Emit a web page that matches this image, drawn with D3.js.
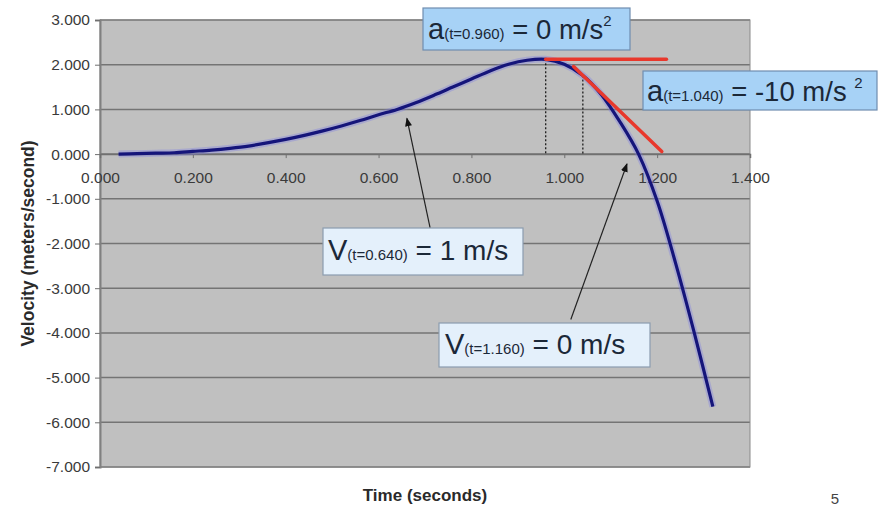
<!DOCTYPE html>
<html>
<head>
<meta charset="utf-8">
<script src="https://cdn.jsdelivr.net/npm/d3@7"></script>
<style>
  html, body { margin: 0; padding: 0; background: #fff; }
  svg { display: block; font-family: "Liberation Sans", Arial, sans-serif; }
</style>
</head>
<body>
<svg id="chart" width="879" height="508"></svg>
<script>
// Sample times (s) and measured velocity (m/s)
const times = [0.04, 0.08, 0.12, 0.16, 0.20, 0.24, 0.28, 0.32, 0.36, 0.40,
               0.44, 0.48, 0.52, 0.56, 0.60, 0.64, 0.68, 0.72, 0.76, 0.80,
               0.84, 0.88, 0.92, 0.96, 1.00, 1.04, 1.08, 1.12, 1.16, 1.20,
               1.24, 1.28, 1.32];
const velocity = [0.00, 0.01, 0.02, 0.03, 0.06, 0.09, 0.13, 0.18, 0.25, 0.33,
                  0.42, 0.52, 0.63, 0.75, 0.88, 1.00, 1.15, 1.32, 1.50, 1.68,
                  1.86, 2.01, 2.10, 2.12, 2.01, 1.76, 1.33, 0.72, 0.00, -1.05,
                  -2.45, -4.00, -5.65];

const xTicks = [0, 0.2, 0.4, 0.6, 0.8, 1.0, 1.2, 1.4];
const yTicks = [-7, -6, -5, -4, -3, -2, -1, 0, 1, 2, 3];

const xTitle = "Time (seconds)";
const yTitle = "Velocity (meters/second)";
const pageNumber = "5";

// Acceleration call-outs: instant and value (slope of the tangent)
const accelTimes = [0.96, 1.04];
const accelValues = [0, -10];
const accelLabels = ["(t=0.960)", "(t=1.040)"];
const tangentEnds = [1.22, 1.21];   // where each tangent line stops (s)

// Velocity call-outs
const velTimes = [0.64, 1.16];
const velValues = [1, 0];
const velLabels = ["(t=0.640)", "(t=1.160)"];

const svg = d3.select("#chart");
const W = 879, H = 508;
svg.append("rect").attr("width", W).attr("height", H).attr("fill", "#ffffff");

const plot = { left: 100, right: 750, top: 20, bottom: 467 };
const x = d3.scaleLinear().domain([0, 1.4]).range([plot.left, plot.right]);
const y = d3.scaleLinear().domain([-7, 3]).range([plot.bottom, plot.top]);

const vAt = t => velocity[times.findIndex(d => Math.abs(d - t) < 1e-9)];
const fmt = d => d.toFixed(3);

// plot background
svg.append("rect")
  .attr("x", plot.left).attr("y", plot.top)
  .attr("width", plot.right - plot.left).attr("height", plot.bottom - plot.top)
  .attr("fill", "#c0c0c0");

// horizontal gridlines
svg.append("g").selectAll("line").data(yTicks).join("line")
  .attr("x1", plot.left).attr("x2", plot.right)
  .attr("y1", d => y(d)).attr("y2", d => y(d))
  .attr("stroke", "#747474").attr("stroke-width", 1.5);

// plot frame
svg.append("rect")
  .attr("x", plot.left).attr("y", plot.top)
  .attr("width", plot.right - plot.left).attr("height", plot.bottom - plot.top)
  .attr("fill", "none").attr("stroke", "#8a8a8a").attr("stroke-width", 1);

// y axis
const yAxis = svg.append("g")
  .attr("transform", `translate(${plot.left},0)`)
  .call(d3.axisLeft(y).tickValues(yTicks).tickFormat(fmt).tickSize(5).tickPadding(5));
yAxis.select(".domain").attr("stroke", "#808080").attr("stroke-width", 2);
yAxis.selectAll(".tick line").attr("stroke", "#707070");
yAxis.selectAll(".tick text").attr("fill", "#3a3a3a").style("font-size", "15.5px");

// x axis through v = 0
const xAxis = svg.append("g")
  .attr("transform", `translate(0,${y(0)})`)
  .call(d3.axisBottom(x).tickValues(xTicks).tickFormat(fmt).tickSize(4).tickPadding(13.5));
xAxis.select(".domain").attr("stroke", "#707070").attr("stroke-width", 1.5);
xAxis.selectAll(".tick line").attr("stroke", "#707070");
xAxis.selectAll(".tick text").attr("fill", "#3a3a3a").style("font-size", "15.5px");

// axis titles
svg.append("text")
  .attr("x", (plot.left + plot.right) / 2).attr("y", 501)
  .attr("text-anchor", "middle")
  .style("font-size", "17px").style("font-weight", "bold").attr("fill", "#2a2a2a")
  .text(xTitle);
svg.append("text")
  .attr("transform", `translate(34,${(plot.top + plot.bottom) / 2}) rotate(-90)`)
  .attr("text-anchor", "middle")
  .style("font-size", "17.5px").style("font-weight", "bold").attr("fill", "#2a2a2a")
  .text(yTitle);

// page number
svg.append("text")
  .attr("x", 835).attr("y", 504).attr("text-anchor", "middle")
  .style("font-size", "15px").attr("fill", "#444").text(pageNumber);

// dotted drop lines at the acceleration instants
svg.append("g").selectAll("line").data(accelTimes).join("line")
  .attr("x1", d => x(d)).attr("x2", d => x(d))
  .attr("y1", d => y(vAt(d))).attr("y2", y(0))
  .attr("stroke", "#111").attr("stroke-width", 1.2)
  .attr("stroke-dasharray", "2,2");

// velocity curve with a soft halo
const pts = times.map((t, i) => [t, velocity[i]]);
const line = d3.line().x(d => x(d[0])).y(d => y(d[1])).curve(d3.curveCatmullRom.alpha(0.5));
svg.append("path").attr("d", line(pts))
  .attr("fill", "none").attr("stroke", "#7c7ce6").attr("stroke-opacity", 0.35)
  .attr("stroke-width", 7).attr("stroke-linejoin", "round");
svg.append("path").attr("d", line(pts))
  .attr("fill", "none").attr("stroke", "#15157a")
  .attr("stroke-width", 3.2).attr("stroke-linejoin", "round");

// tangent lines: slope = stated acceleration
svg.append("g").selectAll("line").data(accelTimes).join("line")
  .attr("x1", (d, i) => x(i === 0 ? d : d - 0.02))
  .attr("y1", (d, i) => y(vAt(d) + accelValues[i] * ((i === 0 ? d : d - 0.02) - d)))
  .attr("x2", (d, i) => x(tangentEnds[i]))
  .attr("y2", (d, i) => y(vAt(d) + accelValues[i] * (tangentEnds[i] - d)))
  .attr("stroke", "#e8382c").attr("stroke-width", 3.5).attr("stroke-linecap", "round");

// arrow marker
svg.append("defs").append("marker")
  .attr("id", "arrowHead").attr("viewBox", "0 0 10 8")
  .attr("refX", 9).attr("refY", 4)
  .attr("markerWidth", 9).attr("markerHeight", 7)
  .attr("markerUnits", "userSpaceOnUse")
  .attr("orient", "auto")
  .append("path").attr("d", "M0,0 L10,4 L0,8 Z").attr("fill", "#111");

// arrows from velocity call-outs to the curve (tail & tip in data units)
const arrowTails = [[0.711, -1.65], [1.014, -3.70]];
const arrowTips = [[0.661, 0.80], [1.135, -0.22]];
svg.append("g").selectAll("line").data(arrowTips).join("line")
  .attr("x1", (d, i) => x(arrowTails[i][0])).attr("y1", (d, i) => y(arrowTails[i][1]))
  .attr("x2", d => x(d[0])).attr("y2", d => y(d[1]))
  .attr("stroke", "#222").attr("stroke-width", 1.2)
  .attr("marker-end", "url(#arrowHead)");

// call-out boxes
function callout(box, fill, stroke, parts) {
  const g = svg.append("g");
  g.append("rect")
    .attr("x", box.x).attr("y", box.y).attr("width", box.w).attr("height", box.h)
    .attr("fill", fill).attr("stroke", stroke).attr("stroke-width", 1.2);
  const txt = g.append("text").attr("x", box.tx).attr("y", box.ty).attr("fill", "#1b2838");
  parts.forEach(p => {
    const ts = txt.append("tspan").style("font-size", p.size + "px").text(p.text);
    if (p.dy) ts.attr("dy", p.dy);
  });
}

callout({ x: 423, y: 8, w: 207, h: 42, tx: 428, ty: 39 }, "#a7d2f6", "#6f8db0", [
  { text: "a", size: 29 },
  { text: accelLabels[0], size: 15 },
  { text: ` = ${accelValues[0]} m/s`, size: 27.5 },
  { text: "2", size: 15, dy: -13 }
]);
callout({ x: 643, y: 71, w: 234, h: 39, tx: 647, ty: 101 }, "#a7d2f6", "#6f8db0", [
  { text: "a", size: 29 },
  { text: accelLabels[1], size: 15 },
  { text: ` = ${accelValues[1]} m/s `, size: 27.5 },
  { text: "2", size: 15, dy: -13 }
]);
callout({ x: 323, y: 228, w: 200, h: 47, tx: 328, ty: 260 }, "#e4f0fb", "#8b9caf", [
  { text: "V", size: 29 },
  { text: velLabels[0], size: 15 },
  { text: ` = ${velValues[0]} m/s`, size: 28 }
]);
callout({ x: 439, y: 323, w: 211, h: 44, tx: 445, ty: 354 }, "#e4f0fb", "#8b9caf", [
  { text: "V", size: 29 },
  { text: velLabels[1], size: 15 },
  { text: ` = ${velValues[1]} m/s`, size: 28 }
]);
</script>
</body>
</html>
